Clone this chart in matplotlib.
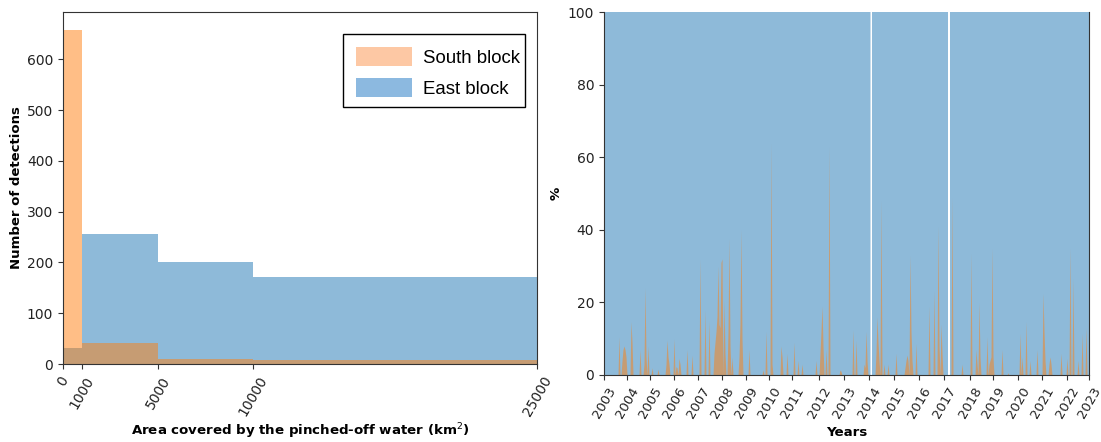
#!/usr/bin/env python3
"""Pinched-off water detections: size histogram and percentage time series per block."""

import numpy as np
import matplotlib
matplotlib.use('Agg')
import matplotlib.pyplot as plt
from matplotlib.patches import Patch, Rectangle

C_SOUTH = 'tab:orange'
C_EAST = 'tab:blue'
C_AXES = '#333333'

# Panel A
bin_edges = [0, 1000, 5000, 10000, 25000]
south_counts = [657, 42, 10, 8]
east_counts = [32, 255, 200, 172]

# Panel B: the time axis is a sample index, years are not evenly spaced on it
n_samples = 486
year_labels = list(range(2003, 2024))
year_ticks = [0, 23, 46, 70, 94, 118, 142, 165, 188, 215, 240, 265, 290, 315,
              340, 366, 389, 414, 438, 463, 485]
gap_samples = [267, 344, 344.5, 345]
south_index = [15, 18, 19, 20, 21, 22, 27, 28, 36, 40, 41, 42, 44, 48, 54, 62, 63, 64, 65, 70,
               72, 73, 75, 76, 83, 88, 96, 101, 105, 110, 111, 112, 113, 114, 115, 116, 117, 118,
               120, 121, 124, 125, 126, 128, 135, 136, 137, 138, 145, 159, 162, 167, 168,
               177, 178, 183, 190, 194, 198, 212, 216, 217, 218, 219, 222, 225, 236,
               237, 249, 252, 260, 261, 262, 263, 272, 273, 274, 275, 277, 280, 284, 292,
               301, 302, 303, 304, 306, 307, 308, 312, 325, 330, 334, 335, 337, 338, 348, 358,
               367, 372, 373, 375, 376, 383, 385, 386, 387, 388, 389, 398, 404, 416, 418, 422,
               426, 433, 439, 440, 441, 445, 446, 447, 457, 463, 466, 469, 474, 478, 482]
south_pct = [10.5, 4, 7, 8, 7, 5, 14.7, 9, 7, 3, 24, 5, 8, 2, 1.6, 3, 9.6, 5, 3, 10,
             2.3, 2, 4.6, 3, 7, 5.5, 32, 18, 15, 6, 9, 12, 16, 30, 14, 13, 31, 32,
             20.6, 6, 12, 37.6, 8, 5, 5, 14, 40, 10, 7, 1.4, 12, 64, 3,
             8, 5, 6, 9, 4, 3, 4, 6, 12, 19, 8, 7, 63, 1.4,
             1, 12.4, 9.6, 3, 2, 12, 4, 6, 16, 9, 4, 48, 3, 3, 6,
             2, 4, 5.5, 4, 33, 12, 4, 8.7, 19, 23.4, 41, 8, 14, 6, 49, 3,
             33.5, 7, 3, 20, 5, 10.5, 3, 4, 5, 35, 5, 7, 0.6, 11.5, 5, 14.7,
             4, 7, 22.5, 12, 4, 3, 5, 3, 6, 4.6, 35, 26.6, 4, 11.5, 13]


def style_axes(ax):
    for spine in ax.spines.values():
        spine.set_color(C_AXES)
    ax.tick_params(color=C_AXES, labelcolor='#222222')


def main():
    fig = plt.figure(figsize=(11.01, 4.42), dpi=100)
    W, H = 1101.0, 442.0
    ax_a = fig.add_axes([63 / W, 1 - 364 / H, 474 / W, 352 / H])
    ax_b = fig.add_axes([604 / W, 1 - 375 / H, 485 / W, 363 / H])

    # Panel A: blue first so that orange sits on top where the bars overlap
    widths = np.diff(bin_edges)
    ax_a.bar(bin_edges[:-1], east_counts, widths, align='edge', color=C_EAST, alpha=0.5, lw=0)
    ax_a.bar(bin_edges[:-1], south_counts, widths, align='edge', color=C_SOUTH, alpha=0.5, lw=0)
    ax_a.set_xlim(0, 25000)
    ax_a.set_ylim(0, 693)
    ax_a.set_xticks(bin_edges)
    ax_a.set_xticklabels(bin_edges, rotation=60, fontsize=10)
    ax_a.tick_params(axis='y', labelsize=10)
    ax_a.set_xlabel('Area covered by the pinched-off water (km$^2$)', fontweight='bold', fontsize=9.6)
    ax_a.xaxis.set_label_coords(0.5, -0.162)
    ax_a.set_ylabel('Number of detections', fontweight='bold', fontsize=9.5)
    ax_a.yaxis.set_label_coords(-0.085, 0.5)
    style_axes(ax_a)

    # legend box is wider-fitting than matplotlib's padding allows, so it is drawn apart
    ax_a.add_patch(Rectangle((280 / 474, 257 / 352), 182 / 474, 73 / 352, transform=ax_a.transAxes,
                             facecolor='white', edgecolor='black', lw=1.0, zorder=4))
    handles = [Patch(facecolor='#fdc8a4', edgecolor='none', label='South block'),
               Patch(facecolor='#8cb9e0', edgecolor='none', label='East block')]
    leg = ax_a.legend(handles=handles, loc='upper left', bbox_to_anchor=(293 / 474, 316.5 / 352),
                      borderaxespad=0, frameon=False, handlelength=3.0, handleheight=1.15,
                      handletextpad=0.6, labelspacing=0.6, borderpad=0,
                      prop={'family': 'Liberation Sans', 'size': 13.4})
    leg.set_zorder(5)

    # Panel B
    t = np.arange(n_samples)
    t_east = np.arange(0, n_samples - 0.75, 0.5)
    south = np.zeros(n_samples)
    south[south_index] = south_pct
    ax_b.fill_between(t_east, 0, 100, where=~np.isin(t_east, gap_samples), color=C_EAST, alpha=0.5, lw=0)
    ax_b.fill_between(t, 0, south, color=C_SOUTH, alpha=0.5, lw=0)
    ax_b.set_xlim(0, n_samples - 1)
    ax_b.set_ylim(0, 100)
    ax_b.set_xticks(year_ticks)
    ax_b.set_xticklabels(year_labels, rotation=60, fontsize=9.5)
    ax_b.tick_params(axis='y', labelsize=10)
    ax_b.set_xlabel('Years', fontweight='bold', fontsize=9.6)
    ax_b.xaxis.set_label_coords(0.5, -0.14)
    ax_b.set_ylabel('%', fontweight='bold', fontsize=9.6)
    ax_b.yaxis.set_label_coords(-0.085, 0.5)
    ax_b.spines['top'].set_visible(False)
    style_axes(ax_b)

    fig.savefig('out.png', dpi=100)
    plt.close(fig)


if __name__ == '__main__':
    main()
